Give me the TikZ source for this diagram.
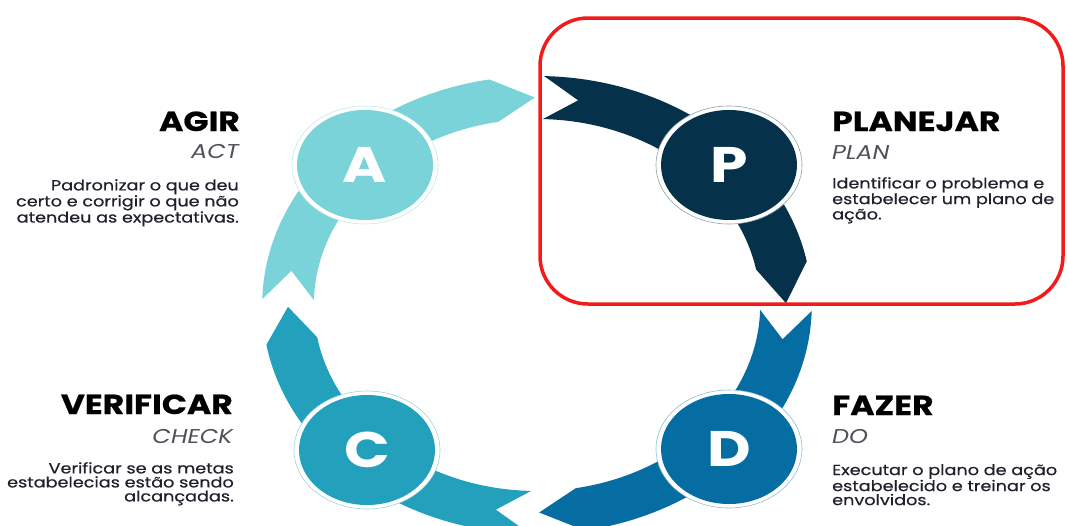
\documentclass[tikz,border=0pt]{standalone}
\usepackage{fontspec}
\setmainfont{Poppins}[FakeStretch=1.2]
\newfontfamily\descfont{Poppins}[FakeStretch=1.2, FakeBold=0.5]
\newfontfamily\titlefont{Poppins}[FakeStretch=1.2, FakeBold=0.6]
\usetikzlibrary{shapes.geometric}
\definecolor{cP}{HTML}{05324A}
\definecolor{cD}{HTML}{056DA2}
\definecolor{cC}{HTML}{23A0BC}
\definecolor{cA}{HTML}{79D3D8}
\definecolor{rd}{HTML}{F21B1B}
\definecolor{txt}{HTML}{241E2C}
\definecolor{subc}{HTML}{50505A}
% ring segment: colour, tail angle, notch angle, corner angle, tip angle
\newcommand\ringseg[5]{%
  \fill[#1] (#2:274.8 and 229) arc[start angle=#2, end angle=#4, x radius=274.8, y radius=229]
    -- (#5:249 and 207.5) -- (#4:223.2 and 186)
    arc[start angle=#4, end angle=#2, x radius=223.2, y radius=186]
    -- (#3:249 and 207.5) -- cycle;}
\begin{document}
\begin{tikzpicture}[x=1pt,y=1pt,
  title/.style={font=\titlefont\fontsize{27.5}{27.5}\selectfont\bfseries, text=black, inner sep=0pt},
  subt/.style={font=\fontsize{20}{20}\selectfont\itshape, text=subc, inner sep=0pt},
  desc/.style={font=\descfont\fontsize{14.7}{14}\selectfont, text=txt, inner sep=0pt},
  halo/.style={ellipse, fill=white, draw=#1!45, line width=0.6pt, minimum width=146pt, minimum height=118pt, inner sep=0pt},
  disc/.style={ellipse, fill=#1, minimum width=136pt, minimum height=110pt, inner sep=0pt,
    font=\fontsize{50}{50}\selectfont\bfseries, text=white},
]
\clip (0,0) rectangle (1068,-525);
\fill[white] (0,0) rectangle (1068,-525);

\begin{scope}[shift={(537,-305)}]
  \ringseg{cP}{88.5}{80.5}{11}{0.5}
  \ringseg{cD}{-1.5}{-9.5}{-80}{-89.5}
  \ringseg{cC}{-91.5}{-99.5}{-170}{-179.5}
  \ringseg{cA}{178.5}{170.5}{100}{90.5}
\end{scope}

\node[halo=cA] (hA) at (365,-165) {};
\node[disc=cA] (A) at (hA.center) {A};
\node[halo=cP] (hP) at (729,-165) {};
\node[disc=cP] (P) at (hP.center) {P};
\node[halo=cC] (hC) at (367,-450) {};
\node[disc=cC] (C) at (hC.center) {C};
\node[halo=cD] (hD) at (729,-449) {};
\node[disc=cD] (D) at (hD.center) {D};

% texts
\node[title, anchor=base east] (tA) at (240,-131) {AGIR};
\node[subt, anchor=base east] (sA) at (239,-158) {ACT};
\node[desc, anchor=north east, align=right] (dA) at (239,-179) {Padronizar o que deu\\certo e corrigir o que não\\atendeu as expectativas.};

\node[title, anchor=base west] (tP) at (832,-131) {PLANEJAR};
\node[subt, anchor=base west] (sP) at (832,-159) {PLAN};
\node[desc, anchor=north west, align=left] (dP) at (832,-177) {Identificar o problema e\\estabelecer um plano de\\ação.};

\node[title, anchor=base east] (tC) at (233,-414) {VERIFICAR};
\node[subt, anchor=base east] (sC) at (233,-443) {CHECK};
\node[desc, anchor=north east, align=right] (dC) at (234,-462) {Verificar se as metas\\estabelecias estão sendo\\alcançadas.};

\node[title, anchor=base west] (tD) at (832,-415) {FAZER};
\node[subt, anchor=base west] (sD) at (832,-443) {DO};
\node[desc, anchor=north west, align=left] (dD) at (832,-464) {Executar o plano de ação\\estabelecido e treinar os\\envolvidos.};

\draw[rd, line width=3.5pt, rounded corners=48pt] (540,-18) rectangle (1063,-304);
\end{tikzpicture}
\end{document}
